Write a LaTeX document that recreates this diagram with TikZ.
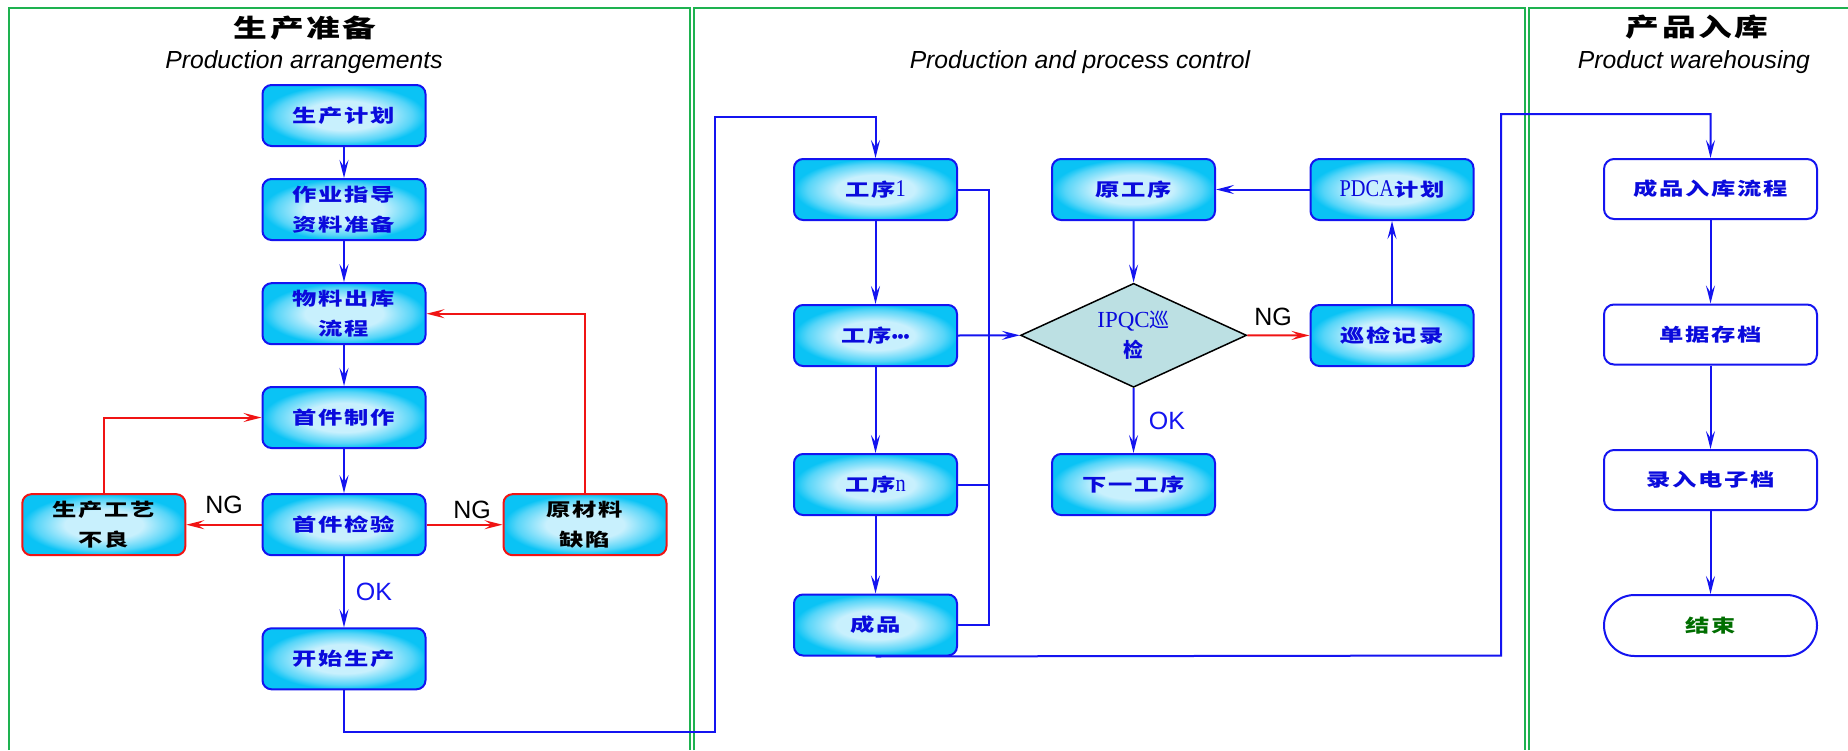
\documentclass[tikz,border=0pt]{standalone}
\usepackage{fontspec}
\setmainfont{Liberation Sans}
\newfontfamily\cjkbox[FakeStretch=1.35,LetterSpace=10]{Noto Sans CJK SC}
\newfontfamily\cjktitle[FakeStretch=1.35,LetterSpace=10]{Noto Sans CJK SC}
\newfontfamily\cjkplain{Noto Sans CJK SC}
\newfontfamily\lserif[FakeStretch=0.85]{Liberation Serif}
\newfontfamily\lserifd{Liberation Serif}
\usetikzlibrary{arrows.meta,shapes.geometric,shapes.misc}

\definecolor{panelgreen}{RGB}{30,178,80}
\definecolor{lineblue}{RGB}{20,20,240}
\definecolor{textblue}{RGB}{10,10,220}
\definecolor{cyanedge}{RGB}{10,195,245}
\definecolor{cyanmid}{RGB}{200,240,253}
\definecolor{diafill}{RGB}{188,224,227}
\definecolor{endgreen}{RGB}{0,110,0}
\definecolor{ngred}{RGB}{240,20,20}

\pgfdeclareradialshading{boxshade}{\pgfpointorigin}{color(0bp)=(cyanmid); color(12bp)=(cyanmid); color(21bp)=(cyanedge!60!cyanmid); color(25bp)=(cyanedge); color(50bp)=(cyanedge)}

\newcommand\boxfnt{\cjkbox\bfseries\fontsize{18}{30}\selectfont}
\newcommand\serfnt{\lserif\mdseries\fontsize{24}{30}\selectfont}

\tikzset{
  panel/.style={draw=panelgreen, line width=2pt},
  box/.style={draw=lineblue, line width=2pt, rounded corners=9pt, shade, shading=boxshade,
    minimum width=163pt, minimum height=61pt, inner sep=0pt, align=center,
    text=textblue, font=\boxfnt},
  redbox/.style={box, draw=ngred},
  wbox/.style={draw=lineblue, line width=2pt, rounded corners=10pt, fill=white,
    minimum width=213pt, minimum height=60pt, inner sep=0pt, align=center,
    text=textblue, font=\boxfnt},
  endbox/.style={rounded rectangle, draw=lineblue, line width=2pt, fill=white,
    minimum width=213pt, minimum height=61pt, inner sep=0pt,
    text=endgreen, font=\boxfnt},
  dia/.style={diamond, draw=black, line width=1.5pt, fill=diafill, aspect=2.17,
    minimum width=226pt, minimum height=104pt, inner sep=0pt, align=center,
    text=textblue, font=\cjkplain\fontsize{20}{30}\selectfont},
  conn/.style={draw=lineblue, line width=2pt},
  arr/.style={conn, -{Stealth[length=18pt,width=9pt,inset=7pt]}},
  rarr/.style={draw=ngred, line width=2pt, -{Stealth[length=18pt,width=9pt,inset=7pt]}},
  nglbl/.style={text=black, font=\fontsize{25}{30}\selectfont, inner sep=0pt},
  oklbl/.style={text=lineblue, font=\fontsize{25}{30}\selectfont, inner sep=0pt},
  ttl/.style={text=black, font=\cjktitle\bfseries\fontsize{25}{30}\selectfont, inner sep=0pt},
  sub/.style={text=black, font=\fontsize{24.7}{30}\selectfont\itshape, inner sep=0pt, anchor=base},
}

\begin{document}
\begin{tikzpicture}[x=1pt,y=-1pt]
\useasboundingbox (0,0) rectangle (1848,750);
\fill[white] (0,0) rectangle (1848,750);

% panels
\draw[panel] (9,750) -- (9,7.5) -- (690,7.5) -- (690,750);
\draw[panel] (694,750) -- (694,7.5) -- (1525,7.5) -- (1525,750);
\draw[panel] (1529,750) -- (1529,7.5) -- (1848,7.5);

% titles
\node[ttl] (t1) at (305,28) {生产准备};
\node[sub] (s1t) at (304,68) {Production arrangements};
\node[sub] (s2t) at (1080,68) {Production and process control};
\node[ttl] (t3) at (1697,27) {产品入库};
\node[sub] (s3t) at (1694,68) {Product warehousing};

% panel 1 nodes
\node[box] (b1) at (344,115.5) {生产计划};
\node[box] (b2) at (344,209.5) {作业指导\\资料准备};
\node[box] (b3) at (344,313.7) {物料出库\\流程};
\node[box] (b4) at (344,417.5) {首件制作};
\node[box] (b5) at (344,524.7) {首件检验};
\node[box] (b6) at (344,658.8) {开始生产};
\node[redbox, text=black] (b7) at (103.8,524.7) {生产工艺\\不良};
\node[redbox, text=black] (b8) at (585,524.7) {原材料\\缺陷};

% panel 2 nodes
\node[box] (p1) at (875.5,189.5) {工序{\serfnt 1}};
\node[box] (p2) at (875.5,335.5) {工序{\rmfamily\bfseries\fontsize{17}{30}\selectfont •••}};
\node[box] (p3) at (875.5,484.5) {工序{\serfnt n}};
\node[box] (p4) at (875.5,625) {成品};
\node[box] (q1) at (1133.5,189.5) {原工序};
\node[dia] (dia) at (1133.6,335.3) {{\lserifd\fontsize{23}{30}\selectfont IPQC}巡\\{\bfseries 检}};
\node[box] (q3) at (1133.5,484.5) {下一工序};
\node[box] (r1) at (1392,189.5) {{\serfnt PDCA}计划};
\node[box] (r2) at (1392,335.5) {巡检记录};

% panel 3 nodes
\node[wbox] (w1) at (1710.5,189) {成品入库流程};
\node[wbox] (w2) at (1710.5,334.5) {单据存档};
\node[wbox] (w3) at (1710.5,480) {录入电子档};
\node[endbox] (w4) at (1710.5,625.5) {结束};

% panel 1 connectors
\draw[arr] (b1.south) -- (b2.north);
\draw[arr] (b2.south) -- (b3.north);
\draw[arr] (b3.south) -- (b4.north);
\draw[arr] (b4.south) -- (b5.north);
\draw[arr] (b5.south) -- (b6.north);
\node[oklbl] (ok1) at (374,592) {OK};
\draw[rarr] (b5.west) -- (b7.east);
\node[nglbl] (ng1) at (224,505) {NG};
\draw[rarr] (b5.east) -- (b8.west);
\node[nglbl] (ng2) at (472,510) {NG};
\draw[rarr] (b7.north) |- (b4.west);
\draw[rarr] (b8.north) |- (b3.east);

\coordinate (c1) at (715.4,731.7);
\coordinate (c2) at (715.4,116.7);
\draw[arr] (b6.south) |- (c1) -- (c2) -| (p1.north);

% panel 2 connectors
\draw[arr] (p1.south) -- (p2.north);
\draw[arr] (p2.south) -- (p3.north);
\draw[arr] (p3.south) -- (p4.north);
\coordinate (busx) at (989,0);
\draw[conn] (p1.east) -| (busx |- p4.east) -- (p4.east);
\draw[conn] (p3.east) -- (busx |- p3.east);
\draw[arr] (p2.east) -- (dia.west);
\draw[arr] (q1.south) -- (dia.north);
\draw[arr] (r1.west) -- (q1.east);
\draw[rarr] (dia.east) -- (r2.west);
\node[nglbl] (ng3) at (1273,317) {NG};
\draw[arr] (r2.north) -- (r1.south);
\draw[arr] (dia.south) -- (q3.north);
\node[oklbl] (ok2) at (1167,421) {OK};

\coordinate (d1) at (1501,655.5);
\coordinate (d2) at (1501,114);
\draw[arr] (p4.south) -- (d1) -- (d2) -| (w1.north);

% panel 3 connectors
\draw[arr] (w1.south) -- (w2.north);
\draw[arr] (w2.south) -- (w3.north);
\draw[arr] (w3.south) -- (w4.north);
\end{tikzpicture}
\end{document}
